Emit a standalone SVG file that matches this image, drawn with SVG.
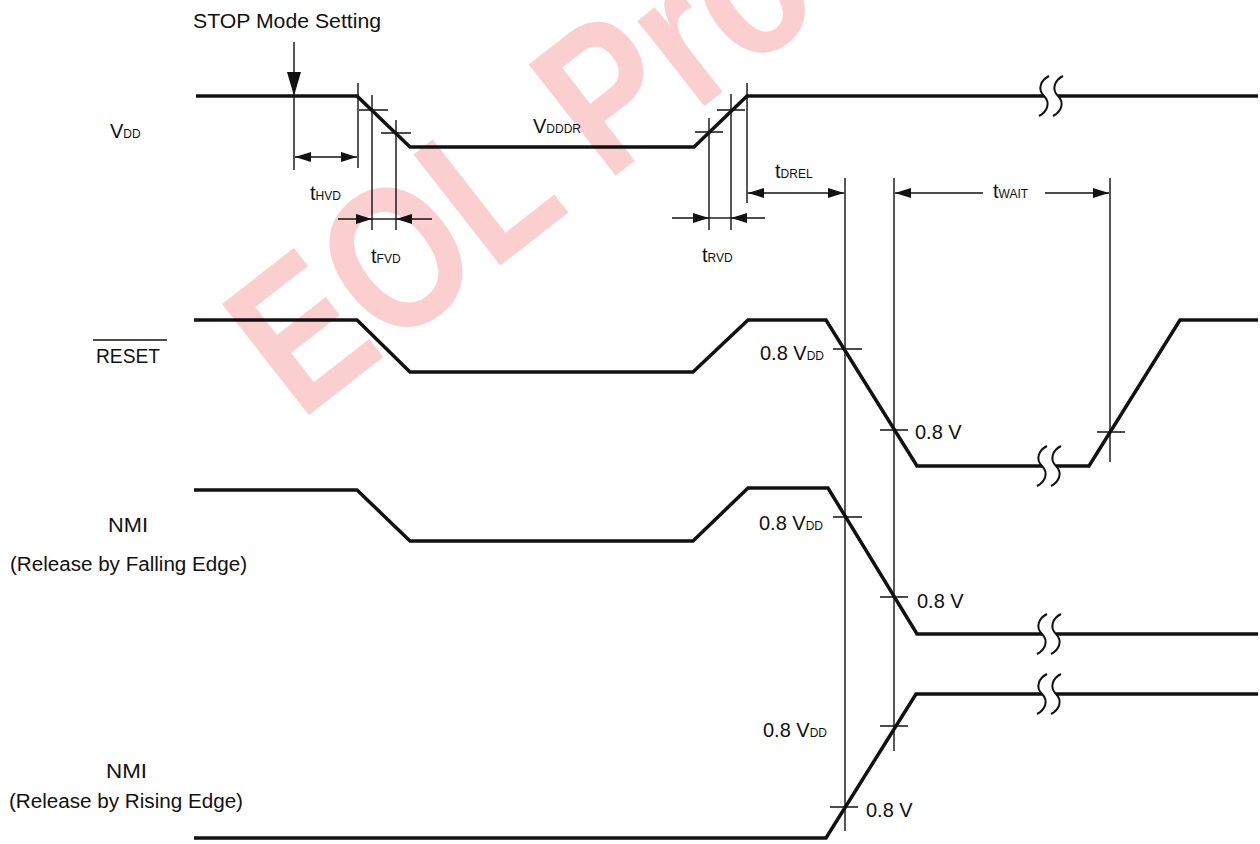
<svg xmlns="http://www.w3.org/2000/svg" xmlns:xlink="http://www.w3.org/1999/xlink" width="1260" height="844" viewBox="0 0 1260 844">
<defs>
<marker id="ah" viewBox="0 0 16 10" refX="16" refY="5" markerWidth="16" markerHeight="10" markerUnits="userSpaceOnUse" orient="auto-start-reverse"><path d="M0,0 L16,5 L0,10 z" fill="#111"/></marker>
<marker id="ahb" viewBox="0 0 24 14" refX="24" refY="7" markerWidth="24" markerHeight="14" markerUnits="userSpaceOnUse" orient="auto"><path d="M0,0 L24,7 L0,14 z" fill="#111"/></marker>
<path id="sq" d="M5,-20 C-3,-16 -7,-7 0,0 C7,7 3,16 -5,20"/>
</defs>
<style>
.sig{fill:none;stroke:#111;stroke-width:3.5;stroke-linejoin:miter}
.thin{fill:none;stroke:#111;stroke-width:1.4}
.sq{fill:none;stroke:#111;stroke-width:2}
.lbl{font-family:"Liberation Sans",Arial,sans-serif;font-size:20px;fill:#111}
.sub{font-size:12px}
.wm{font-family:"Liberation Sans",Arial,sans-serif;font-weight:bold;fill:#fbcfcf}
</style>
<rect width="1260" height="844" fill="#fff"/>
<text class="wm" font-size="205" transform="translate(300,422) rotate(-38) scale(0.82,1)">EOL Pro</text>

<g id="vdd">
<text class="lbl" x="110" y="138" font-size="19">V<tspan class="sub" font-size="13">DD</tspan></text>
<path class="sig" d="M196,96 H357 L410,147 H694 L747,96 H1044 M1058,96 H1258"/>
<use href="#sq" x="1044" y="96" class="sq"/>
<use href="#sq" x="1058" y="96" class="sq"/>
<text class="lbl" x="533" y="133" font-size="19">V<tspan class="sub" font-size="13">DDDR</tspan></text>
</g>

<g id="stop">
<text class="lbl" x="193" y="28" font-size="21" textLength="188" lengthAdjust="spacingAndGlyphs">STOP Mode Setting</text>
<line class="thin" x1="294" y1="42" x2="294" y2="96" stroke-width="2.2" marker-end="url(#ahb)"/>
</g>

<g id="reset">
<text class="lbl" x="96" y="363" textLength="64" lengthAdjust="spacingAndGlyphs">RESET</text>
<line class="thin" x1="93" y1="340" x2="167" y2="340"/>
<path class="sig" d="M194,320 H357 L410,372 H693 L748,320 H826 L917,466 H1042 M1056,466 H1089 L1180,320 H1258"/>
<use href="#sq" x="1042" y="466" class="sq"/>
<use href="#sq" x="1056" y="466" class="sq"/>
<path class="thin" d="M833,349 H862 M880,430 H908 M1097,432 H1125"/>
<text class="lbl" x="824" y="360" text-anchor="end">0.8 V<tspan class="sub" font-size="13">DD</tspan></text>
<text class="lbl" x="915" y="439">0.8 V</text>
</g>

<g id="nmi-fall">
<text class="lbl" x="108" y="532" textLength="40" lengthAdjust="spacingAndGlyphs">NMI</text>
<text class="lbl" x="10" y="571" textLength="237" lengthAdjust="spacingAndGlyphs">(Release by Falling Edge)</text>
<path class="sig" d="M194,490 H357 L410,541 H693 L748,488 H828 L917,634 H1042 M1056,634 H1258"/>
<use href="#sq" x="1042" y="634" class="sq"/>
<use href="#sq" x="1056" y="634" class="sq"/>
<path class="thin" d="M833,517 H862 M880,597 H908"/>
<text class="lbl" x="823" y="530" text-anchor="end">0.8 V<tspan class="sub" font-size="13">DD</tspan></text>
<text class="lbl" x="917" y="608">0.8 V</text>
</g>

<g id="nmi-rise">
<text class="lbl" x="106" y="778" textLength="41" lengthAdjust="spacingAndGlyphs">NMI</text>
<text class="lbl" x="9" y="808" textLength="234" lengthAdjust="spacingAndGlyphs">(Release by Rising Edge)</text>
<path class="sig" d="M194,838 H826 L916,694 H1042 M1056,694 H1258"/>
<use href="#sq" x="1042" y="694" class="sq"/>
<use href="#sq" x="1056" y="694" class="sq"/>
<path class="thin" d="M830,807 H858 M880,726 H908"/>
<text class="lbl" x="827" y="737" text-anchor="end">0.8 V<tspan class="sub" font-size="13">DD</tspan></text>
<text class="lbl" x="866" y="817">0.8 V</text>
</g>

<g id="connectors">
<path class="thin" d="M294,96 V170 M358,83 V168 M372,95 V230 M396,120 V230 M709,118 V230 M731,94 V230 M747,83 V203 M845,178 V831 M894,178 V751 M1110,178 V462"/>
<path class="thin" d="M359,110 H388 M381,133 H411 M695,132 H723 M717,110 H745"/>
<line class="thin" x1="295" y1="157" x2="357" y2="157" marker-start="url(#ah)" marker-end="url(#ah)"/>
<line class="thin" x1="338" y1="219" x2="372" y2="219" marker-end="url(#ah)"/>
<line class="thin" x1="372" y1="219" x2="396" y2="219"/>
<line class="thin" x1="432" y1="219" x2="396" y2="219" marker-end="url(#ah)"/>
<line class="thin" x1="672" y1="218" x2="709" y2="218" marker-end="url(#ah)"/>
<line class="thin" x1="709" y1="218" x2="731" y2="218"/>
<line class="thin" x1="765" y1="218" x2="731" y2="218" marker-end="url(#ah)"/>
<line class="thin" x1="748" y1="193" x2="844" y2="193" marker-start="url(#ah)" marker-end="url(#ah)"/>
<line class="thin" x1="983" y1="193" x2="895" y2="193" marker-end="url(#ah)"/>
<line class="thin" x1="1045" y1="193" x2="1109" y2="193" marker-end="url(#ah)"/>
</g>

<g id="timing-labels">
<text class="lbl" x="310" y="200">t<tspan class="sub" font-size="13">HVD</tspan></text>
<text class="lbl" x="371" y="263">t<tspan class="sub" font-size="13">FVD</tspan></text>
<text class="lbl" x="702" y="262">t<tspan class="sub" font-size="13">RVD</tspan></text>
<text class="lbl" x="775" y="178">t<tspan class="sub" font-size="13">DREL</tspan></text>
<text class="lbl" x="993" y="198">t<tspan class="sub" font-size="13">WAIT</tspan></text>
</g>
</svg>
